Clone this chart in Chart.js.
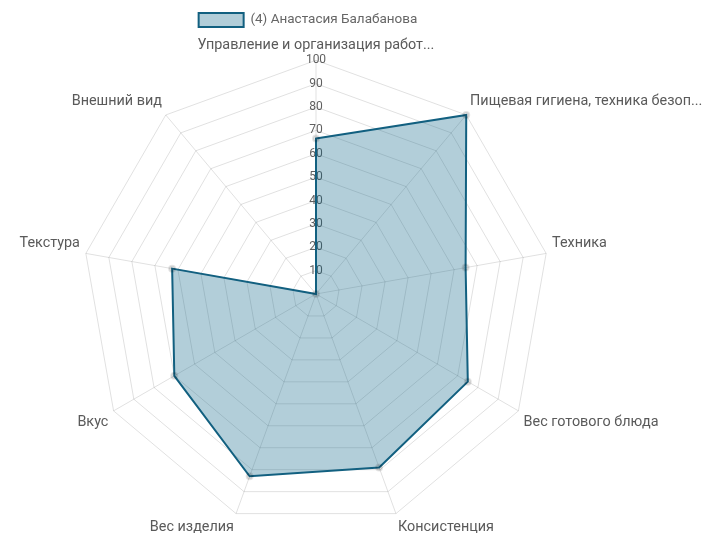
<!DOCTYPE html>
<html>
<head>
<meta charset="utf-8">
<script src="https://cdn.jsdelivr.net/npm/chart.js@4.4.0/dist/chart.umd.min.js"></script>
<style>
    html, body { margin: 0; padding: 0; background: #fff; }
    #wrap { position: relative; width: 704px; height: 533px; overflow: hidden; }
    #radar { position: absolute; left: -184px; top: 0; }
</style>
</head>
<body>
<div id="wrap"><canvas id="radar" width="1000" height="544"></canvas></div>
<script>
// критерии оценки (оси)
let criteria = [
    'Управление и организация работ...',
    'Пищевая гигиена, техника безоп...',
    'Техника',
    'Вес готового блюда',
    'Консистенция',
    'Вес изделия',
    'Вкус',
    'Текстура',
    'Внешний вид'
];
// баллы участника
let seriesName = '(4) Анастасия Балабанова';
let scores = [66.5, 100, 65, 75, 79, 83, 70, 62.5, 0];
// шкала
let tickMin = 0;
let tickMax = 100;
let tickStep = 10;

// сдвиг легенды (в оригинале она чуть левее и ниже)
var legendShift = {
    id: 'legendShift',
    beforeDraw: function (chart) {
        let lg = chart.legend;
        if (!lg) return;
        lg.top += 8;
        lg.bottom += 8;
        lg.left -= 8;
        lg.right -= 8;
    }
};

var data = {
    labels: criteria,
    datasets: [{
        label: seriesName,
        data: scores,
        fill: true,
        backgroundColor: 'rgba(0, 92, 129, 0.3)',
        borderColor: 'rgb(18, 96, 128)',
        borderWidth: 2,
        pointRadius: 3,
        pointBackgroundColor: 'rgba(0, 0, 0, 0.1)',
        pointBorderColor: 'rgba(0, 0, 0, 0.1)',
        tension: 0
    }]
};

var options = {
    responsive: false,
    animation: false,
    layout: { padding: 0 },
    plugins: {
        legend: {
            position: 'top',
            labels: {
                color: '#666',
                font: { family: 'Roboto', size: 13.5 },
                boxWidth: 45,
                boxHeight: 14,
                padding: 5
            }
        },
        tooltip: { enabled: false }
    },
    scales: {
        r: {
            min: tickMin,
            max: tickMax,
            ticks: {
                stepSize: tickStep,
                color: '#5f5f5f',
                font: { family: 'Roboto', size: 12 },
                showLabelBackdrop: false,
                backdropPadding: 0
            },
            grid: { color: 'rgba(0, 0, 0, 0.12)' },
            angleLines: { color: 'rgba(0, 0, 0, 0.12)' },
            pointLabels: {
                color: '#5a5a5a',
                padding: 0,
                font: { family: 'Roboto', size: 14.4 }
            }
        }
    }
};

var ctx = document.getElementById('radar').getContext('2d');
var radarChart = new Chart(ctx, {
    type: 'radar',
    data: data,
    options: options,
    plugins: [legendShift]
});
</script>
</body>
</html>
